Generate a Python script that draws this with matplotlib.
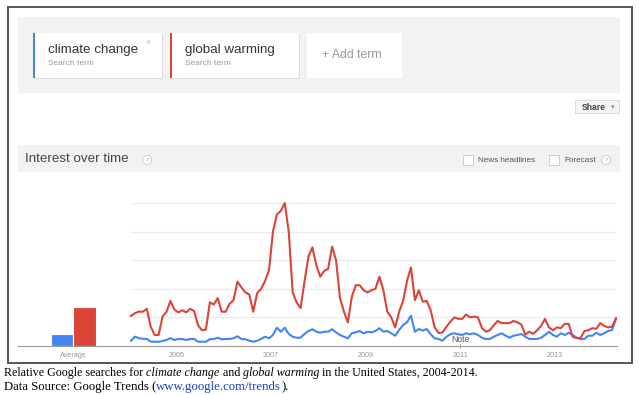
import matplotlib
matplotlib.use("Agg")
import matplotlib.pyplot as plt
from matplotlib.patches import Rectangle, Circle
import numpy as np

W, H = 639, 395

terms = ["climate change", "global warming"]
term_colors = ["#4285f4", "#db4437"]
average = [8.4, 27]
year_ticks = [2005, 2007, 2009, 2011, 2013]
start_year = 2004

# monthly interest, Jan 2004 - Apr 2014
climate_change = [
    3.7, 6.5, 5.5, 5, 5, 3, 3, 3, 3.5, 4.2,
    5.5, 4.2, 4.9, 4.9, 4.2, 4.9, 4.9, 3, 3, 3,
    4.7, 4.9, 5.8, 4.7, 4.9, 4.9, 5.4, 6.8, 4.9, 4.7,
    3.7, 3, 3.7, 4.9, 6.5, 5.4, 7.7, 12.8, 10, 12.8,
    8.4, 6.5, 5.8, 5.8, 8.4, 10.5, 11.7, 10, 9.3, 10,
    10, 11.7, 9.6, 7.7, 6.5, 5.4, 8.9, 9.6, 10.5, 8.9,
    10, 9.6, 10.5, 12.4, 10, 10.5, 8.9, 7.2, 11.2, 14.7,
    16.6, 21.2, 10, 11.9, 10.8, 11.9, 8.2, 5.4, 4.9, 3.7,
    6.5, 8.2, 8.9, 8.2, 7.7, 8.9, 8.2, 8.9, 7.7, 5.8,
    4.9, 4.9, 6.5, 7.7, 8.9, 7.2, 5.8, 7.2, 7.7, 8.4,
    6.5, 4.9, 4.9, 4.9, 5.8, 7.7, 10, 7.7, 6.5, 8.9,
    7.7, 9.3, 7.7, 5.8, 4.9, 4.9, 7.2, 7.2, 9.3, 7.7,
    8.9, 10.5, 11.2, 18.9,
]
global_warming = [
    21, 23, 24, 24, 26, 13.5, 7.7, 7.7, 20.5, 24,
    31.5, 25.5, 23.5, 25, 23.5, 26, 24.5, 14.5, 11, 11.5,
    30.5, 29, 33.5, 24, 24, 29.5, 32, 45, 41, 37.5,
    36, 24, 37, 40, 45.5, 53, 80, 92, 94.5, 100,
    80, 37.5, 30.5, 26.5, 45, 62.5, 69, 56.5, 48.5, 52.5,
    54, 69.5, 60, 33.5, 24, 16.5, 34.5, 42.5, 42.5, 39,
    37.5, 39, 40, 48.5, 39, 24, 20, 13, 24, 31.5,
    45.5, 55, 32, 39, 31, 31.5, 25, 13, 9, 9.5,
    13.5, 17, 20, 19, 19, 22, 20, 20.5, 20, 12.5,
    10, 11, 14.5, 17.5, 16, 16, 16, 17.5, 16.5, 15,
    8, 10, 8.5, 11, 14, 19, 13, 11, 13, 12.5,
    15.5, 15.5, 6.5, 5.5, 5.5, 10.5, 11, 12.5, 12, 16,
    14, 13, 13.5, 19.5,
]

SANS = "Liberation Sans"
SERIF = "Liberation Serif"

fig = plt.figure(figsize=(W / 100, H / 100), dpi=100)
bg = fig.add_axes([0, 0, 1, 1])
bg.set_xlim(0, W)
bg.set_ylim(H, 0)
bg.axis("off")


def px_axes(x0, y0, x1, y1):
    return fig.add_axes([x0 / W, 1 - y1 / H, (x1 - x0) / W, (y1 - y0) / H])


def rect(x0, y0, x1, y1, **kw):
    bg.add_patch(Rectangle((x0, y0), x1 - x0, y1 - y0, **kw))


def help_icon(x, y):
    bg.add_patch(Circle((x, y), 4.5, facecolor="white", edgecolor="#cfcfcf", lw=0.7))
    bg.text(x, y + 0.3, "?", fontsize=4, color="#aaa", ha="center", va="center", family=SANS)


# outer frame
rect(8, 7, 632, 363, facecolor="white", edgecolor="#555555", lw=1.4)

# search term panel
rect(18, 17, 620, 93, facecolor="#f2f2f2", edgecolor="none")
card_x = [33, 170]
for cx, term, col in zip(card_x, terms, term_colors):
    rect(cx + 0.5, 34, cx + 129.5, 79, facecolor="#dcdcdc", edgecolor="none")
    rect(cx, 33, cx + 129, 78, facecolor="white", edgecolor="none")
    rect(cx, 33, cx + 2.2, 78, facecolor=col, edgecolor="none")
    bg.text(cx + 15, 50, term, fontsize=9.6, color="#333333", va="center", family=SANS)
    bg.text(cx + 15, 63.5, "Search term", fontsize=6, color="#999999", va="center", family=SANS)
bg.text(148, 43, "\u00d7", fontsize=6.5, color="#bbbbbb", ha="center", va="center", family=SANS)
rect(307, 33, 402, 78, facecolor="white", edgecolor="none")
bg.text(322, 55.5, "+ Add term", fontsize=8.8, color="#999999", va="center", family=SANS)

# share button
rect(575, 100, 619, 113, facecolor="#f5f5f5", edgecolor="#d6d6d6", lw=0.6)
bg.text(582, 107, "Share", fontsize=6.2, color="#444444", weight="bold", va="center", family=SANS)
bg.text(613, 107.5, "\u25be", fontsize=5, color="#888888", ha="center", va="center",
        family="DejaVu Sans")

# interest over time header
rect(18, 145, 620, 172, facecolor="#f2f2f2", edgecolor="none")
bg.text(25, 159, "Interest over time", fontsize=9.6, color="#444444", va="center", family=SANS)
help_icon(147, 160)
for bx, label in [(463, "News headlines"), (549, "Forecast")]:
    rect(bx, 155, bx + 10, 165, facecolor="white", edgecolor="#c8c8c8", lw=0.6)
    bg.text(bx + 15, 160, label, fontsize=5.9, color="#555555", va="center", family=SANS)
help_icon(606, 160)

# baseline under both chart parts
bg.plot([18, 617], [346, 346], color="#9a9a9a", lw=0.8, zorder=3)

# average bars
ax_avg = px_axes(18, 203, 131, 346)
ax_avg.bar([0, 1], average, width=1, color=term_colors, edgecolor="white", lw=0.8)
ax_avg.set_xlim(-2.0, 3.1)
ax_avg.set_ylim(0, 100)
ax_avg.set_xticks([0.5])
ax_avg.set_xticklabels(["Average"], fontsize=5.2, color="#999999", family=SANS)
ax_avg.tick_params(axis="x", length=0, pad=4)
ax_avg.set_yticks([])
for s in ax_avg.spines.values():
    s.set_visible(False)
ax_avg.patch.set_alpha(0)

# main time series
months = np.arange(len(global_warming))
x = start_year + (months + 0.5) / 12
ax = px_axes(131, 203, 616, 346)
ax.set_xlim(x[0], x[-1])
ax.set_ylim(0, 100)
for v in [20, 40, 60, 80, 100]:
    ax.axhline(v, color="#ececec", lw=0.9, zorder=0)
ax.plot(x, climate_change, color=term_colors[0], lw=1.5, clip_on=False, zorder=3)
ax.plot(x, global_warming, color=term_colors[1], lw=1.5, clip_on=False, zorder=3)
ax.set_xticks(year_ticks)
ax.set_xticklabels([str(y) for y in year_ticks], fontsize=5.2, color="#999999", family=SANS)
ax.tick_params(axis="x", length=0, pad=4)
ax.set_yticks([])
for s in ax.spines.values():
    s.set_visible(False)
ax.patch.set_alpha(0)
ax.plot([2011, 2011], [-1.5, 1.5], color="#aaaaaa", lw=0.7, clip_on=False, zorder=4)
ax.text(2011, 4.8, "Note", fontsize=6.2, color="#555555", ha="center", va="center",
        family=SANS, zorder=5)

# caption, drawn run by run so the italic words sit inline
renderer = fig.canvas.get_renderer()


def caption(x0, y, parts, size):
    xx = x0
    for s, style, col in parts:
        t = bg.text(xx, y, s, fontsize=size, family=SERIF, style=style, color=col, va="center")
        xx += t.get_window_extent(renderer).width


caption(4, 373, [
    ("Relative Google searches for ", "normal", "black"),
    ("climate change", "italic", "black"),
    (" and ", "normal", "black"),
    ("global warming", "italic", "black"),
    (" in the United States, 2004-2014.", "normal", "black"),
], 8.65)
caption(4, 387, [
    ("Data Source: Google Trends (", "normal", "black"),
    ("www.google.com/trends", "normal", "#1a3ec8"),
    (").", "normal", "black"),
], 9.2)

fig.savefig("out.png", dpi=100)
